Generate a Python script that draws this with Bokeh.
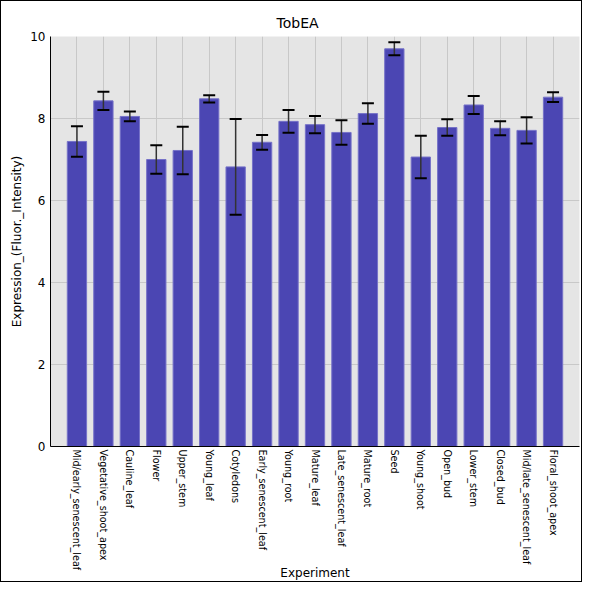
import math
from bokeh.plotting import figure
from bokeh.models import ColumnDataSource, Range1d, FixedTicker, Whisker, TeeHead
from bokeh.embed import file_html
from bokeh.resources import INLINE

categories = ["Mid/early_senescent_leaf", "Vegetative_shoot_apex", "Cauline_leaf", "Flower",
              "Upper_stem", "Young_leaf", "Cotyledons", "Early_senescent_leaf", "Young_root",
              "Mature_leaf", "Late_senescent_leaf", "Mature_root", "Seed", "Young_shoot",
              "Open_bud", "Lower_stem", "Closed_bud", "Mid/late_senescent_leaf", "Floral_shoot_apex"]
means = [7.44, 8.43, 8.05, 7.00, 7.22, 8.48, 6.82, 7.42, 7.93,
         7.85, 7.66, 8.12, 9.70, 7.06, 7.78, 8.33, 7.76, 7.71, 8.52]
sds = [0.37, 0.22, 0.12, 0.35, 0.58, 0.09, 1.17, 0.18, 0.28,
       0.21, 0.30, 0.25, 0.16, 0.52, 0.20, 0.22, 0.17, 0.32, 0.12]
y_ticks = [0, 2, 4, 6, 8, 10]

positions = list(range(1, len(categories) + 1))
src = ColumnDataSource(dict(
    x=positions, top=means,
    upper=[m + s for m, s in zip(means, sds)],
    lower=[m - s for m, s in zip(means, sds)],
))

FONT = "DejaVu Sans"
p = figure(width=582, height=582, output_backend="svg", toolbar_location=None,
           x_range=Range1d(0, len(categories) + 1),
           y_range=Range1d(0, 10),
           title="TobEA", x_axis_label="Experiment",
           y_axis_label="Expression_(Fluor._Intensity)",
           min_border_left=49, min_border_right=4, min_border_top=35, min_border_bottom=0)
p.styles = {"border": "1px solid black"}

p.background_fill_color = "#e5e5e5"
p.border_fill_color = "white"
p.outline_line_color = None

p.vbar(x="x", top="top", width=0.73, bottom=0, source=src,
       fill_color="#4b46b3", line_color="#7672c8", line_width=1)

w = Whisker(base="x", upper="upper", lower="lower", source=src,
            line_color="#333333", line_width=1.5, level="overlay",
            upper_head=TeeHead(size=12, line_width=2, line_color="black"),
            lower_head=TeeHead(size=12, line_width=2, line_color="black"))
p.add_layout(w)

p.title.align = "left"
p.title.offset = 226
p.title.standoff = 12
p.title.text_font = FONT
p.title.text_font_size = "14px"
p.title.text_font_style = "normal"
p.title.text_color = "black"

p.xaxis.ticker = FixedTicker(ticks=positions)
p.xaxis.major_label_overrides = {pos: c for pos, c in zip(positions, categories)}
p.xaxis.major_label_orientation = -math.pi / 2
p.yaxis.ticker = FixedTicker(ticks=y_ticks)

for ax in (p.xaxis[0], p.yaxis[0]):
    ax.major_tick_line_color = None
    ax.minor_tick_line_color = None
    ax.major_tick_out = 0
    ax.major_tick_in = 0
    ax.axis_line_color = "black"
    ax.axis_label_text_font = FONT
    ax.axis_label_text_font_size = "12px"
    ax.axis_label_text_font_style = "normal"
    ax.major_label_text_font = FONT
    ax.major_label_text_color = "black"
    ax.axis_label_text_color = "black"

p.xaxis.major_label_text_font_size = "9.6px"
p.xaxis.major_label_standoff = 3
p.xaxis.axis_label_standoff = -7
p.yaxis.major_label_text_font_size = "12px"
p.yaxis.major_label_standoff = 5
p.yaxis.axis_label_standoff = 3

p.xgrid.grid_line_color = "#c8c8c8"
p.ygrid.grid_line_color = "#c8c8c8"

open("out.html", "w").write(file_html(p, INLINE))
